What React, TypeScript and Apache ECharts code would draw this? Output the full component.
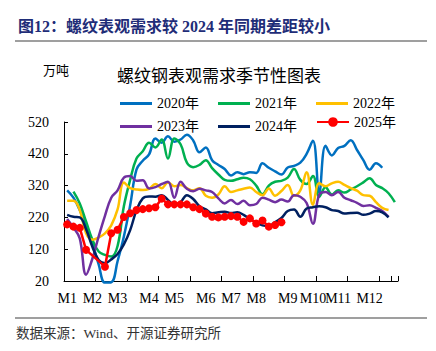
import React, { useEffect, useRef } from "react";
import * as echarts from "echarts";

const weeks = Array.from({ length: 53 }, (_, i) => "W" + (i + 1));
const monthWeekIndex = [0, 4, 8, 13, 17, 22, 26, 30, 35, 39, 43, 48];
const monthNames = ["M1", "M2", "M3", "M4", "M5", "M6", "M7", "M8", "M9", "M10", "M11", "M12"];
const yTicks = { min: 20, max: 520, step: 100 };

const y2020 = [305, 282, 243, 191, 139, 72, 15, 16, 82, 160, 258, 370, 398, 418, 468, 455, 475, 458, 465, 480, 462, 425, 440, 400, 385, 372, 352, 362, 356, 362, 360, 390, 376, 365, 355, 377, 382, 392, 420, 461, 298, 445, 415, 438, 445, 463, 432, 400, 370, 390, 376, null, null];
const y2021 = [null, 301, 264, 207, 150, 113, 102, 97, 130, 255, 338, 405, 428, 455, 440, 465, 405, 468, 450, 392, 378, 385, 400, 375, 355, 338, 335, 340, 345, 340, 320, 293, 320, 332, 335, 345, 372, 338, 325, 350, 285, 315, 292, 305, 298, 308, 318, 330, 343, 322, 312, 296, 268];
const y2022 = [272, 272, 243, 170, 150, 157, 170, 195, 245, 330, 312, 308, 306, 310, 325, 312, 330, 318, 322, 312, 305, 312, 288, 282, 292, 318, 300, 305, 310, 314, 300, 290, 311, 288, 303, 322, 288, 305, 362, 260, 327, 318, 327, 332, 322, 312, 304, 290, 288, 268, 250, 243, null];
const y2023 = [215, 188, 154, 40, 90, 160, 225, 282, 305, 345, 350, 335, 337, 311, 315, 325, 332, 282, 332, 310, 302, 310, 305, 300, 280, 264, 275, 262, 272, 258, 262, 282, 276, 268, 276, 270, 290, 285, 265, 200, 292, 300, 290, 300, 282, 274, 266, 256, 258, 250, 240, 222, null];
const y2024 = [228, 222, 220, 183, 128, 86, 76, 88, 105, 135, 180, 242, 280, 286, 285, 290, 275, 260, 268, 290, 278, 255, 245, 233, 236, 238, 234, 236, 228, 215, 205, 195, 193, 205, 218, 240, 245, 222, 248, 252, 255, 252, 243, 240, 232, 234, 235, 228, 232, 240, 236, 220, null];
const y2025 = [198, 191, 187, 118, null, null, 65, 170, 181, 221, 233, 243, 246, 249, 252, 279, 261, 261, 261, 261, 252, 246, 232, 222, 220, 222, 224, 222, 206, 217, 201, 210, 191, 196, 205, null, null, null, null, null, null, null, null, null, null, null, null, null, null, null, null, null, null];

const seriesNames = ["2020年", "2021年", "2022年", "2023年", "2024年", "2025年"];
const seriesData = [y2020, y2021, y2022, y2023, y2024, y2025];
const colors = ["#0070C0", "#00B050", "#FFC000", "#7030A0", "#002060", "#FF0000"];

const FONT = '"Liberation Serif", "Noto Sans CJK SC", serif';

export default function App() {
  const ref = useRef<HTMLDivElement>(null);
  useEffect(() => {
    if (!ref.current) return;
    const chart = echarts.init(ref.current, null, { renderer: "svg" });
    const legendPos = [
      [115, 87], [213, 87], [311, 87],
      [115, 110], [213, 110], [311, 110],
    ];
    const option: any = {
      animation: false,
      backgroundColor: "#fff",
      textStyle: { fontFamily: FONT },
      grid: { left: 64, top: 122, width: 334, height: 159, containLabel: false },
      legend: seriesNames.map((n, i) => {
        const isRed = i === 5;
        return {
          data: [isRed ? { name: n } : { name: n, icon: "rect" }],
          left: legendPos[i][0],
          top: isRed ? legendPos[i][1] : legendPos[i][1] + 4.5,
          itemWidth: 32,
          itemHeight: isRed ? 12 : 3,
          itemGap: 0,
          selectedMode: false,
          textStyle: { fontSize: 14, fontFamily: FONT, color: "#000" },
        };
      }),
      xAxis: {
        type: "category",
        data: weeks,
        boundaryGap: true,
        axisLine: { lineStyle: { color: "#000", width: 1 } },
        axisTick: { show: true, inside: true, length: 5, interval: 4, lineStyle: { color: "#000" } },
        axisLabel: {
          interval: 0,
          margin: 10,
          fontSize: 14,
          fontFamily: FONT,
          color: "#000",
          formatter: (_v: string, idx: number) => {
            const k = monthWeekIndex.indexOf(idx);
            return k >= 0 ? monthNames[k] : "";
          },
        },
        splitLine: { show: false },
      },
      yAxis: {
        type: "value",
        min: yTicks.min,
        max: yTicks.max,
        interval: yTicks.step,
        axisLine: { show: true, lineStyle: { color: "#000", width: 1 } },
        axisTick: { show: true, inside: true, length: 4, lineStyle: { color: "#000" } },
        axisLabel: { margin: 15, fontSize: 14, fontFamily: FONT, color: "#000" },
        splitLine: { show: false },
      },
      series: seriesNames.map((n, i) => {
        const isRed = i === 5;
        return {
          name: n,
          type: "line",
          data: seriesData[i],
          smooth: isRed ? false : 0.4,
          connectNulls: isRed,
          clip: false,
          symbol: isRed ? "circle" : "none",
          symbolSize: isRed ? 8 : 0,
          showSymbol: isRed,
          showAllSymbol: true,
          itemStyle: { color: colors[i] },
          lineStyle: { color: colors[i], width: 2.5 },
          z: 2 + i,
        };
      }),
      graphic: [
        {
          type: "text",
          x: 18,
          y: 26,
          style: {
            text: "图12：螺纹表观需求较 2024 年同期差距较小",
            fontSize: 16,
            fontWeight: "bold",
            fontFamily: FONT,
            fill: "#1f2d78",
            verticalAlign: "middle",
          },
        },
        { type: "line", shape: { x1: 15, y1: 41, x2: 427, y2: 41 }, style: { stroke: "#7f7f7f", lineWidth: 1.5 } },
        {
          type: "text",
          x: 43,
          y: 70,
          style: { text: "万吨", fontSize: 13, fontFamily: FONT, fill: "#000", verticalAlign: "middle" },
        },
        {
          type: "text",
          x: 117,
          y: 76,
          style: { text: "螺纹钢表观需求季节性图表", fontSize: 17, fontFamily: FONT, fill: "#000", verticalAlign: "middle" },
        },
        { type: "line", shape: { x1: 15, y1: 318, x2: 427, y2: 318 }, style: { stroke: "#7f7f7f", lineWidth: 1.5 } },
        {
          type: "text",
          x: 16,
          y: 333,
          style: { text: "数据来源：Wind、开源证券研究所", fontSize: 13.5, fontFamily: FONT, fill: "#333", verticalAlign: "middle" },
        },
      ],
    };
    chart.setOption(option);
    return () => chart.dispose();
  }, []);
  return (
    <div
      ref={ref}
      style={{ position: "fixed", left: 0, top: 0, width: 436, height: 351, background: "#fff" }}
    />
  );
}
